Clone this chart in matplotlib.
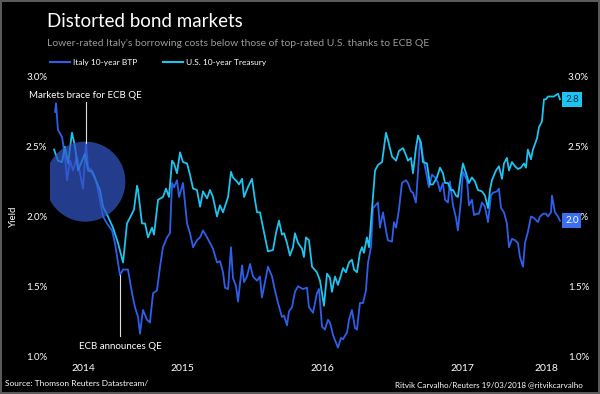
import matplotlib
matplotlib.use('Agg')
import matplotlib.pyplot as plt
from matplotlib.lines import Line2D
from matplotlib.patches import Ellipse
from matplotlib.transforms import blended_transform_factory

plt.rcParams['font.family'] = ['Lato', 'DejaVu Sans']

# ── data (decimal years, % yield) ─────────────────────────────────────────────
italy_t = [2014.593, 2014.600, 2014.614, 2014.643, 2014.664, 2014.679, 2014.700, 2014.721,
           2014.750, 2014.771, 2014.793, 2014.814, 2014.829, 2014.857, 2014.879, 2014.900,
           2014.936, 2014.964, 2015.000, 2015.021, 2015.057, 2015.079, 2015.114, 2015.143,
           2015.164, 2015.186, 2015.200, 2015.221, 2015.250, 2015.271, 2015.293, 2015.321,
           2015.343, 2015.364, 2015.393, 2015.414, 2015.429, 2015.443, 2015.464, 2015.479,
           2015.507, 2015.536, 2015.557, 2015.579, 2015.607, 2015.629, 2015.650, 2015.679,
           2015.700, 2015.721, 2015.750, 2015.771, 2015.793, 2015.807, 2015.829, 2015.850,
           2015.864, 2015.886, 2015.900, 2015.929, 2015.943, 2015.964, 2015.986, 2016.007,
           2016.036, 2016.057, 2016.071, 2016.093, 2016.114, 2016.143, 2016.164, 2016.186,
           2016.214, 2016.229, 2016.250, 2016.264, 2016.286, 2016.307, 2016.329, 2016.364,
           2016.393, 2016.407, 2016.436, 2016.464, 2016.479, 2016.500, 2016.521, 2016.543,
           2016.557, 2016.579, 2016.614, 2016.636, 2016.650, 2016.679, 2016.693, 2016.714,
           2016.736, 2016.750, 2016.771, 2016.793, 2016.814, 2016.829, 2016.850, 2016.864,
           2016.900, 2016.914, 2016.936, 2016.957, 2016.971, 2017.000, 2017.014, 2017.029,
           2017.050, 2017.071, 2017.100, 2017.114, 2017.136, 2017.150, 2017.171, 2017.186,
           2017.200, 2017.221, 2017.243, 2017.264, 2017.286, 2017.307, 2017.329, 2017.343,
           2017.364, 2017.379, 2017.400, 2017.414, 2017.436, 2017.457, 2017.471, 2017.493,
           2017.507, 2017.536, 2017.550, 2017.571, 2017.586, 2017.607, 2017.621, 2017.643,
           2017.664, 2017.686, 2017.707, 2017.721, 2017.750, 2017.764, 2017.779, 2017.800,
           2017.821, 2017.836, 2017.857, 2017.879, 2017.900, 2017.914, 2017.936, 2017.950,
           2017.971, 2017.993, 2018.014, 2018.043, 2018.057, 2018.079, 2018.100, 2018.114,
           2018.136, 2018.143, 2018.164, 2018.186, 2018.200]
italy_y = [2.75, 2.81, 2.62, 2.57, 2.43, 2.26, 2.40, 2.33,
           2.43, 2.31, 2.20, 2.53, 2.35, 2.33, 2.28, 2.19,
           2.00, 1.95, 1.90, 1.81, 1.58, 1.62, 1.62, 1.45,
           1.35, 1.28, 1.16, 1.33, 1.26, 1.24, 1.45, 1.47,
           1.64, 1.78, 1.85, 1.88, 2.24, 2.21, 2.26, 2.14,
           2.24, 1.95, 1.88, 1.78, 1.83, 1.85, 1.90, 1.85,
           1.81, 1.77, 1.67, 1.68, 1.60, 1.49, 1.48, 1.78,
           1.56, 1.50, 1.39, 1.65, 1.53, 1.57, 1.66, 1.57,
           1.54, 1.57, 1.42, 1.53, 1.64, 1.57, 1.47, 1.38,
           1.28, 1.29, 1.22, 1.32, 1.35, 1.46, 1.50, 1.48,
           1.49, 1.35, 1.31, 1.45, 1.48, 1.21, 1.19, 1.26,
           1.24, 1.15, 1.06, 1.13, 1.12, 1.17, 1.26, 1.33,
           1.20, 1.19, 1.38, 1.38, 1.47, 1.67, 1.78, 2.06,
           2.10, 1.92, 2.03, 1.90, 1.83, 1.82, 1.96, 1.92,
           2.05, 2.24, 2.26, 2.24, 2.18, 2.17, 2.10, 2.32,
           2.55, 2.43, 2.32, 2.21, 2.30, 2.28, 2.24, 2.18,
           2.24, 2.12, 2.10, 2.25, 2.08, 1.99, 1.90, 2.12,
           2.32, 2.26, 2.08, 2.12, 2.01, 2.02, 2.02, 2.10,
           2.07, 1.96, 2.15, 2.17, 2.18, 2.20, 2.06, 2.03,
           1.95, 1.78, 1.84, 1.83, 1.81, 1.71, 1.64, 1.81,
           1.89, 2.00, 1.99, 1.96, 2.00, 2.02, 2.02, 2.00,
           2.03, 2.15, 2.03, 2.00, 1.97]

us_t = [2014.586, 2014.614, 2014.643, 2014.664, 2014.686, 2014.714, 2014.736, 2014.757,
        2014.786, 2014.807, 2014.829, 2014.857, 2014.893, 2014.914, 2014.936, 2014.971,
        2015.007, 2015.043, 2015.079, 2015.107, 2015.143, 2015.157, 2015.179, 2015.186,
        2015.214, 2015.236, 2015.257, 2015.286, 2015.300, 2015.329, 2015.364, 2015.386,
        2015.407, 2015.429, 2015.443, 2015.464, 2015.486, 2015.507, 2015.536, 2015.557,
        2015.579, 2015.607, 2015.629, 2015.650, 2015.679, 2015.700, 2015.721, 2015.750,
        2015.771, 2015.793, 2015.829, 2015.850, 2015.864, 2015.893, 2015.907, 2015.929,
        2015.943, 2015.971, 2016.000, 2016.021, 2016.036, 2016.057, 2016.079, 2016.114,
        2016.150, 2016.171, 2016.193, 2016.214, 2016.229, 2016.250, 2016.271, 2016.293,
        2016.307, 2016.329, 2016.357, 2016.371, 2016.386, 2016.407, 2016.429, 2016.464,
        2016.486, 2016.514, 2016.536, 2016.557, 2016.571, 2016.593, 2016.614, 2016.636,
        2016.650, 2016.671, 2016.693, 2016.714, 2016.729, 2016.750, 2016.771, 2016.786,
        2016.800, 2016.821, 2016.836, 2016.857, 2016.879, 2016.900, 2016.929, 2016.957,
        2016.971, 2017.000, 2017.029, 2017.050, 2017.079, 2017.100, 2017.114, 2017.136,
        2017.150, 2017.171, 2017.186, 2017.207, 2017.221, 2017.250, 2017.271, 2017.293,
        2017.321, 2017.343, 2017.364, 2017.379, 2017.400, 2017.421, 2017.436, 2017.457,
        2017.471, 2017.493, 2017.507, 2017.529, 2017.550, 2017.571, 2017.593, 2017.614,
        2017.643, 2017.664, 2017.686, 2017.700, 2017.714, 2017.743, 2017.764, 2017.786,
        2017.800, 2017.821, 2017.836, 2017.857, 2017.879, 2017.900, 2017.921, 2017.943,
        2017.957, 2017.971, 2017.993, 2018.007, 2018.036, 2018.050, 2018.071, 2018.086,
        2018.100, 2018.114, 2018.136, 2018.157, 2018.171, 2018.186, 2018.200]
us_y = [2.48, 2.40, 2.39, 2.50, 2.38, 2.60, 2.50, 2.33,
        2.40, 2.45, 2.33, 2.32, 2.24, 2.19, 2.07, 2.00,
        1.92, 1.81, 1.67, 1.95, 2.02, 2.05, 2.22, 2.19,
        1.95, 1.95, 1.85, 1.92, 1.87, 2.12, 2.14, 2.20,
        2.14, 2.40, 2.38, 2.31, 2.46, 2.39, 2.38, 2.30,
        2.20, 2.19, 2.07, 2.18, 2.13, 2.19, 2.14, 2.00,
        2.08, 2.03, 2.14, 2.32, 2.28, 2.25, 2.23, 2.27,
        2.14, 2.21, 2.27, 2.12, 2.03, 2.03, 1.92, 1.75,
        1.76, 1.88, 1.97, 1.87, 1.88, 1.81, 1.72, 1.78,
        1.88, 1.81, 1.77, 1.71, 1.85, 1.83, 1.64, 1.60,
        1.54, 1.36, 1.59, 1.56, 1.46, 1.57, 1.51, 1.58,
        1.63, 1.60, 1.67, 1.69, 1.62, 1.60, 1.74, 1.78,
        1.74, 1.85, 1.78, 2.05, 2.33, 2.37, 2.39, 2.60,
        2.55, 2.43, 2.40, 2.47, 2.49, 2.44, 2.40, 2.42,
        2.31, 2.49, 2.58, 2.53, 2.39, 2.38, 2.23, 2.23,
        2.28, 2.35, 2.31, 2.24, 2.24, 2.19, 2.19, 2.15,
        2.14, 2.30, 2.38, 2.31, 2.24, 2.28, 2.25, 2.19,
        2.18, 2.15, 2.06, 2.19, 2.26, 2.33, 2.36, 2.27,
        2.38, 2.42, 2.33, 2.39, 2.36, 2.34, 2.35, 2.38,
        2.35, 2.48, 2.41, 2.48, 2.56, 2.64, 2.68, 2.84,
        2.84, 2.86, 2.86, 2.86, 2.87, 2.88, 2.84]

yticks = [1.0, 1.5, 2.0, 2.5, 3.0]
years = [2014, 2015, 2016, 2017, 2018]

BG = 'black'
ITALY = '#2e5fea'
US = '#1cc4ef'

# ── figure ────────────────────────────────────────────────────────────────────
fig = plt.figure(figsize=(6.0, 3.94), dpi=100, facecolor=BG)
fig.patch.set_edgecolor('#5a5a5a')
fig.patch.set_linewidth(1.5)

def fx(px):
    return px / 600

def fy(py):
    return 1 - py / 394

ax = fig.add_axes([fx(50), fy(363), fx(565) - fx(50), fy(70) - fy(363)], facecolor=BG)
ax.set_xlim(2014.557, 2018.236)
ax.set_ylim(0.95, 3.05)

ax.plot(italy_t, italy_y, color=ITALY, lw=1.3, zorder=3)
ax.plot(us_t, us_y, color=US, lw=1.3, zorder=3)

# annotations
ax.add_patch(Ellipse((2014.81, 2.25), 0.571, 0.574, facecolor='#3456c8',
                     edgecolor='none', alpha=0.7, zorder=4))
ax.plot([2014.814, 2014.814], [2.53, 2.82], color='#dddddd', lw=0.8, zorder=5)
ax.text(2014.81, 2.87, 'Markets brace for ECB QE', color='white', fontsize=7,
        ha='center', va='center', zorder=5)
ax.plot([2015.058, 2015.058], [1.14, 1.58], color='#dddddd', lw=0.8, zorder=5)
ax.text(2015.058, 1.065, 'ECB announces QE', color='white', fontsize=7,
        ha='center', va='center', zorder=5)

# ticks
ax.set_yticks(yticks)
ax.set_yticklabels([f'{v:.1f}%' for v in yticks])
ax.tick_params(axis='y', length=0, pad=2, labelsize=7, labelcolor='white',
               labelleft=True, labelright=True)
start, end = min(italy_t + us_t), max(italy_t + us_t)
xt = [(max(y, start) + min(y + 1, end)) / 2 for y in years]
ax.set_xticks(xt)
ax.set_xticklabels([str(y) for y in years])
ax.tick_params(axis='x', length=0, pad=1, labelsize=7.5, labelcolor='white')
for s in ax.spines.values():
    s.set_visible(False)
ax.set_ylabel('Yield', color='white', fontsize=7, labelpad=6)

# end-value boxes
tr = blended_transform_factory(ax.transAxes, ax.transData)
ax.text(1.0, us_y[-1], f'{us_y[-1]:.1f}', transform=tr, ha='left', va='center',
        fontsize=7, color='#0a2a50', zorder=6,
        bbox=dict(boxstyle='square,pad=0.3', facecolor=US, edgecolor='none'))
ax.text(1.0, italy_y[-1], f'{italy_y[-1]:.1f}', transform=tr, ha='left', va='center',
        fontsize=7, color='white', zorder=6,
        bbox=dict(boxstyle='square,pad=0.3', facecolor='#3a6ff0', edgecolor='none'))

# titles
fig.text(fx(47), fy(27), 'Distorted bond markets', color='white', fontsize=13.5,
         ha='left', va='baseline')
fig.text(fx(47), fy(44), "Lower-rated Italy's borrowing costs below those of top-rated U.S. thanks to ECB QE",
         color='#9a9a9a', fontsize=7.5, ha='left', va='center')

# legend
fig.add_artist(Line2D([fx(50), fx(70)], [fy(62), fy(62)], color=ITALY, lw=1.5))
fig.text(fx(73), fy(62), 'Italy 10-year BTP', color='white', fontsize=6, va='center')
fig.add_artist(Line2D([fx(163), fx(183)], [fy(62), fy(62)], color=US, lw=1.5))
fig.text(fx(186), fy(62), 'U.S. 10-year Treasury', color='white', fontsize=6, va='center')

# footer
fig.text(fx(5), fy(384), 'Source: Thomson Reuters Datastream/', color='white',
         fontsize=6, va='center')
fig.text(fx(583), fy(385), 'Ritvik Carvalho/Reuters 19/03/2018 @ritvikcarvalho',
         color='white', fontsize=5.8, va='center', ha='right')

fig.savefig('out.png', dpi=100, facecolor=BG, edgecolor=fig.patch.get_edgecolor())
